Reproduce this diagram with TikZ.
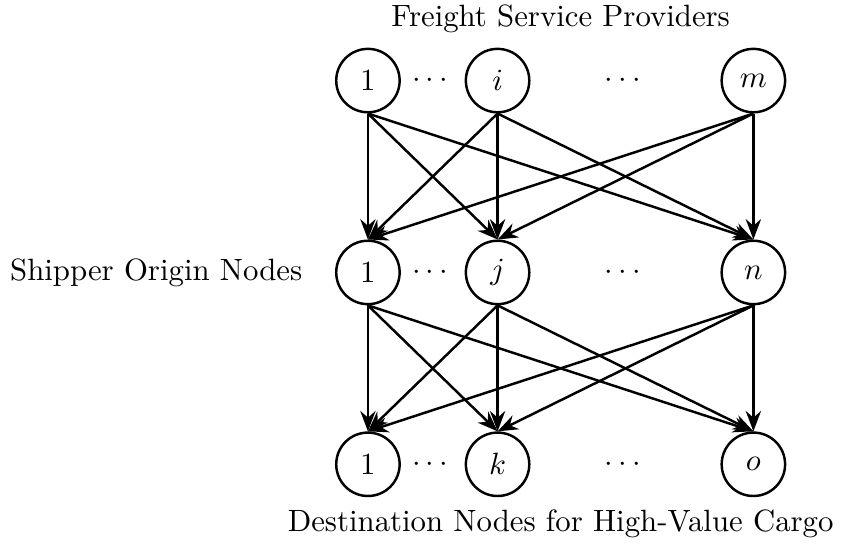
\documentclass[tikz,border=0pt]{standalone}
\usepackage{amsmath}
\usetikzlibrary{arrows.meta,positioning,calc}

\begin{document}
\begin{tikzpicture}[
  font=\normalsize,
  vtx/.style = {circle, draw, thick, minimum size=20.6pt, inner sep=0pt},
  lbl/.style = {align=center},
  edg/.style = {-{Stealth}, thick}
]
\useasboundingbox (-4.20,0.92) rectangle (5.40,-5.32);

% Top row: providers
\node[vtx] (p1) at (0,0)    {$1$};
\node[vtx] (pi) at (1.48,0) {$i$};
\node[vtx] (pm) at (4.40,0) {$m$};

% Middle row: origins
\node[vtx] (s1) at (0,-2.19)    {$1$};
\node[vtx] (sj) at (1.48,-2.19) {$j$};
\node[vtx] (sn) at (4.40,-2.19) {$n$};

% Bottom row: destinations
\node[vtx] (d1) at (0,-4.38)    {$1$};
\node[vtx] (dk) at (1.48,-4.38) {$k$};
\node[vtx] (do) at (4.40,-4.38) {$o$};

% Dots between the nodes
\node (pdotA) at ($(p1)!0.5!(pi)$) {$\cdots$};
\node (pdotB) at ($(pi)!0.5!(pm)$) {$\cdots$};
\node (sdotA) at ($(s1)!0.5!(sj)$) {$\cdots$};
\node (sdotB) at ($(sj)!0.5!(sn)$) {$\cdots$};
\node (ddotA) at ($(d1)!0.5!(dk)$) {$\cdots$};
\node (ddotB) at ($(dk)!0.5!(do)$) {$\cdots$};

% Row titles
\coordinate (topmid) at ($(p1)!0.5!(pm)$);
\coordinate (botmid) at ($(d1)!0.5!(do)$);
\node[lbl, above=4.2mm of topmid] (prov) {Freight Service Providers};
\node[lbl, left=2.5mm of s1] (ship) {Shipper Origin Nodes};
\node[lbl, below=3.9mm of botmid] (dest) {Destination Nodes for High-Value Cargo};

% Providers to origins
\draw[edg] (p1.south) -- (s1.north);
\draw[edg] (p1.south) -- (sj.north);
\draw[edg] (p1.south) -- (sn.north);
\draw[edg] (pi.south) -- (s1.north);
\draw[edg] (pi.south) -- (sj.north);
\draw[edg] (pi.south) -- (sn.north);
\draw[edg] (pm.south) -- (s1.north);
\draw[edg] (pm.south) -- (sj.north);
\draw[edg] (pm.south) -- (sn.north);

% Origins to destinations
\draw[edg] (s1.south) -- (d1.north);
\draw[edg] (s1.south) -- (dk.north);
\draw[edg] (s1.south) -- (do.north);
\draw[edg] (sj.south) -- (d1.north);
\draw[edg] (sj.south) -- (dk.north);
\draw[edg] (sj.south) -- (do.north);
\draw[edg] (sn.south) -- (d1.north);
\draw[edg] (sn.south) -- (dk.north);
\draw[edg] (sn.south) -- (do.north);

\end{tikzpicture}
\end{document}
